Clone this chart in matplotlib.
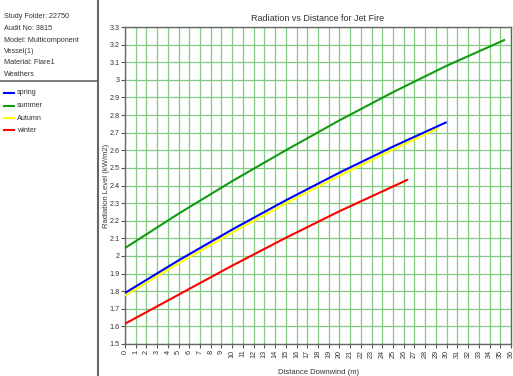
import matplotlib
matplotlib.use("Agg")
import matplotlib.pyplot as plt
from matplotlib.lines import Line2D
from matplotlib import font_manager

# Series data: distance downwind (m) and radiation level (kW/m2)
spring_x = [0, 5, 10, 15, 20, 25, 30]
spring_y = [1.79, 1.975, 2.150, 2.316, 2.473, 2.621, 2.76]

summer_x = [0, 5, 10, 15, 20, 25, 30, 35.45]
summer_y = [2.045, 2.24, 2.425, 2.60, 2.77, 2.93, 3.08, 3.228]

autumn_x = [0, 5, 10, 15, 20, 25, 29.2]
autumn_y = [1.775, 1.958, 2.133, 2.299, 2.456, 2.604, 2.726]

winter_x = [0, 5, 10, 15, 20, 26.4]
winter_y = [1.615, 1.78, 1.945, 2.103, 2.254, 2.434]

series_names = ["spring", "summer", "Autumn", "winter"]
series_colors = ["#0000ff", "#129a12", "#ffff00", "#ff0000"]

info_lines = ["Study Folder: 22750", "Audit No: 3815", "Model: Multicomponent",
              "Vessel(1)", "Material: Flare1", "Weathers"]

x_ticks = list(range(0, 37))
y_ticks = [round(1.5 + 0.1 * i, 1) for i in range(19)]
y_tick_labels = ["%g" % v for v in y_ticks]

available = {f.name for f in font_manager.fontManager.ttflist}
family = "Liberation Sans Narrow" if "Liberation Sans Narrow" in available else "Liberation Sans"
plt.rcParams["font.family"] = [family, "DejaVu Sans"]

W, H = 513, 376
fig = plt.figure(figsize=(W / 100, H / 100), dpi=100)
fig.patch.set_facecolor("white")

ax = fig.add_axes([125 / W, 1 - 344 / H, (511 - 125) / W, (344 - 27) / H])

grid_color = "#84c984"
for v in x_ticks:
    ax.axvline(v, color=grid_color, lw=0.9, zorder=1)
for v in y_ticks:
    ax.axhline(v, color=grid_color, lw=0.9, zorder=1)

data = [(spring_x, spring_y), (summer_x, summer_y), (autumn_x, autumn_y), (winter_x, winter_y)]
# draw so the blue line sits over the yellow one
order = [1, 3, 2, 0]
for i in order:
    xs, ys = data[i]
    ax.plot(xs, ys, color=series_colors[i], lw=1.5, zorder=3, solid_capstyle="butt")

ax.set_xlim(0, 36)
ax.set_ylim(1.5, 3.3)
ax.set_xticks(x_ticks)
ax.set_xticklabels([str(v) for v in x_ticks], rotation=90)
ax.set_yticks(y_ticks)
ax.set_yticklabels(y_tick_labels)
ax.tick_params(axis="both", labelsize=5.2, length=3, width=0.8, color="#555555",
               labelcolor="#333333", pad=1)
for s in ax.spines.values():
    s.set_color("#666666")
    s.set_linewidth(1.0)

ax.set_title("Radiation vs Distance for Jet Fire", fontsize=6.5, color="#333333", pad=4)
ax.set_xlabel("Distance Downwind (m)", fontsize=5.5, color="#333333")
ax.set_ylabel("Radiation Level (kW/m2)", fontsize=5.5, color="#333333")
ax.xaxis.set_label_coords(0.5, (344 - 369) / 317)
ax.yaxis.set_label_coords((110 - 125) / 386, 0.5)

# Left information / legend panel
fig.add_artist(Line2D([97.5 / W, 97.5 / W], [0, 1], transform=fig.transFigure,
                      color="#666666", lw=1.5))
fig.add_artist(Line2D([0, 97.5 / W], [1 - 81 / H, 1 - 81 / H], transform=fig.transFigure,
                      color="#666666", lw=1.2))

for k, txt in enumerate(info_lines):
    y = 17 + k * 11.5
    fig.text(4 / W, 1 - y / H, txt, fontsize=5.2, color="#333333", va="center", ha="left")

for k, name in enumerate(series_names):
    y = 93 + k * 12.5
    fig.add_artist(Line2D([4 / W, 14 / W], [1 - y / H, 1 - y / H], transform=fig.transFigure,
                          color=series_colors[k], lw=1.5))
    fig.text(17 / W, 1 - y / H, name, fontsize=5.2, color="#333333", va="center", ha="left")

fig.savefig("out.png", dpi=100)
